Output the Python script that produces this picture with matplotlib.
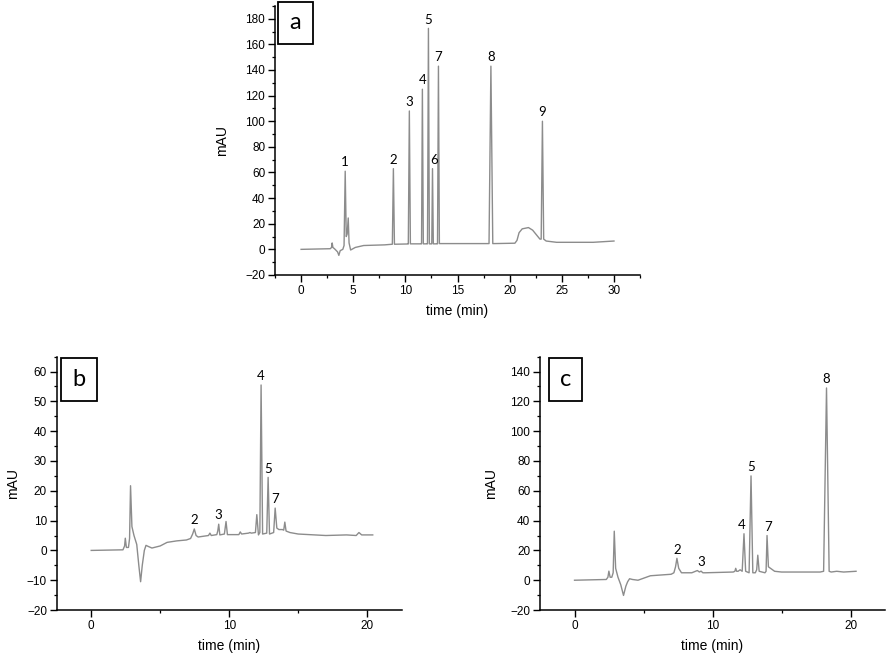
import matplotlib

matplotlib.use("Agg")
import matplotlib.pyplot as plt
from matplotlib.patches import Rectangle
from matplotlib.ticker import MultipleLocator

# traced chromatogram vertices (time in min, absorbance in mAU)
time_a = [0.0, 2.8, 2.92, 2.98, 3.05, 3.2, 3.5, 3.62, 3.75, 4.0, 4.12, 4.23, 4.33, 4.42, 4.52, 4.6,
          4.75, 5.2, 6.0, 8.0, 8.75, 8.85, 8.95, 10.2, 10.28, 10.38, 10.48, 11.5, 11.55, 11.63,
          11.72, 12.05, 12.12, 12.21, 12.3, 12.48, 12.53, 12.6, 12.68, 13.02, 13.08, 13.17, 13.26,
          13.5, 17.9, 18.02, 18.2, 18.38, 18.5, 20.5, 20.7, 20.9, 21.2, 21.8, 22.2, 22.6, 22.9,
          23.02, 23.14, 23.26, 23.5, 24.5, 26.0, 28.0, 30.0]
mau_a = [0.0, 0.5, 1.5, 5.0, 1.5, 0.5, -2.0, -4.7, -1.0, 0.0, 3.0, 61.0, 10.0, 12.0, 24.5, 5.0,
         -0.5, 1.5, 3.0, 3.5, 4.0, 63.0, 4.0, 4.2, 4.2, 108.0, 4.3, 4.3, 4.3, 125.0,
         4.3, 4.3, 4.3, 172.5, 4.3, 4.3, 4.3, 63.0, 4.3, 4.3, 4.3, 143.0, 4.5,
         4.5, 4.5, 4.5, 143.0, 4.5, 4.5, 4.8, 7.0, 13.0, 16.0, 17.0, 15.0, 11.0, 8.0,
         8.0, 100.0, 8.0, 6.5, 5.5, 5.5, 5.5, 6.5]

time_b = [0.0, 2.3, 2.42, 2.47, 2.55, 2.7, 2.78, 2.85, 2.95, 3.1, 3.3, 3.45, 3.58, 3.7, 3.85,
          3.97, 4.15, 4.4, 5.0, 5.5, 6.2, 6.9, 7.2, 7.35, 7.47, 7.6, 7.75, 8.5, 8.6, 8.7, 9.1,
          9.17, 9.24, 9.32, 9.65, 9.77, 9.87, 10.7, 10.8, 10.9, 11.4, 11.5, 11.6, 11.9, 12.0,
          12.12, 12.22, 12.31, 12.42, 12.72, 12.82, 12.92, 13.22, 13.33, 13.45, 13.6, 13.85,
          13.95, 14.03, 14.12, 14.4, 15.0, 17.0, 18.5, 19.2, 19.4, 19.6, 20.4]
mau_b = [0.0, 0.2, 1.5, 4.1, 1.0, 1.0, 4.0, 21.7, 8.0, 5.0, 2.0, -5.0, -10.5, -5.0, 0.0,
         1.7, 1.3, 0.8, 1.5, 2.7, 3.2, 3.5, 4.0, 5.5, 7.2, 5.0, 4.5, 5.0, 5.8, 5.0, 5.3,
         6.5, 8.8, 5.2, 5.5, 9.7, 5.3, 5.3, 6.2, 5.5, 5.8, 6.0, 5.8, 6.0, 12.0,
         5.2, 6.0, 55.5, 5.5, 5.8, 24.5, 5.5, 6.0, 14.2, 7.5, 7.0, 7.0,
         6.8, 9.5, 6.5, 6.0, 5.5, 5.0, 5.2, 5.0, 6.0, 5.2, 5.2]

time_c = [0.0, 2.3, 2.42, 2.49, 2.58, 2.7, 2.8, 2.88, 2.98, 3.15, 3.35, 3.55, 3.72, 3.85, 3.99,
          4.2, 4.6, 5.5, 7.0, 7.2, 7.32, 7.42, 7.55, 7.75, 8.5, 8.9, 9.05, 9.17, 9.3, 9.5,
          11.5, 11.62, 11.68, 11.75, 11.85, 12.0, 12.15, 12.28, 12.4, 12.65, 12.79, 12.92,
          13.1, 13.2, 13.28, 13.38, 13.8, 13.88, 13.95, 14.05, 14.2, 14.5, 15.0, 17.8, 18.05,
          18.26, 18.45, 18.6, 19.0, 19.5, 20.4]
mau_c = [0.0, 0.5, 2.0, 6.1, 2.0, 2.0, 5.0, 32.9, 8.0, 2.0, -3.0, -10.2, -4.0, -1.0, 1.0,
         0.5, 0.0, 3.0, 4.0, 5.0, 9.0, 14.7, 8.0, 5.0, 5.0, 6.5, 5.5, 6.1, 5.0, 5.0,
         5.5, 6.0, 8.0, 6.0, 6.0, 7.0, 6.0, 31.2, 6.0, 5.0, 70.0, 5.0,
         5.0, 7.0, 16.8, 6.0, 5.0, 6.0, 30.0, 9.0, 8.0, 6.0, 5.5, 5.5, 6.0,
         129.0, 6.0, 5.5, 6.0, 5.5, 6.0]

# peak labels: number, retention time, apex height
peaks_a = ["1", "2", "3", "4", "5", "6", "7", "8", "9"]
peak_t_a = [4.23, 8.85, 10.38, 11.63, 12.21, 12.72, 13.17, 18.2, 23.14]
peak_h_a = [61.0, 63.0, 108.0, 125.0, 172.5, 63.0, 143.0, 143.0, 100.0]

peaks_b = ["2", "3", "4", "5", "7"]
peak_t_b = [7.47, 9.24, 12.31, 12.82, 13.33]
peak_h_b = [7.2, 8.8, 55.5, 24.5, 14.2]

peaks_c = ["2", "3", "4", "5", "7", "8"]
peak_t_c = [7.42, 9.17, 12.1, 12.79, 14.0, 18.26]
peak_h_c = [14.7, 6.1, 31.2, 70.0, 30.0, 129.0]

TRACE = "#8c8c8c"
TICK_FONT = "Liberation Sans"
LABEL_FONT = "Lato"


def _style(ax, xlim, ylim, xmaj, xmin, ymaj, ymin):
    ax.set_xlim(*xlim)
    ax.set_ylim(*ylim)
    for side in ("top", "right"):
        ax.spines[side].set_visible(False)
    for side in ("left", "bottom"):
        ax.spines[side].set_linewidth(1.1)
    ax.xaxis.set_major_locator(MultipleLocator(xmaj))
    ax.xaxis.set_minor_locator(MultipleLocator(xmin))
    ax.yaxis.set_major_locator(MultipleLocator(ymaj))
    ax.yaxis.set_minor_locator(MultipleLocator(ymin))
    ax.tick_params(which="major", direction="out", length=5, width=1.0, labelsize=8.5, pad=2)
    ax.tick_params(which="minor", direction="out", length=2.5, width=0.9)
    ax.set_xticks([t for t in ax.get_xticks() if t >= 0 and t <= xlim[1] - 1])
    for lab in ax.get_xticklabels() + ax.get_yticklabels():
        lab.set_fontfamily(TICK_FONT)
    ax.set_xlabel("time (min)", fontsize=10, family=TICK_FONT, labelpad=5)
    ax.set_ylabel("mAU", fontsize=10, family=TICK_FONT)


def _box(ax, letter, x0, y0, w, h):
    ax.add_patch(Rectangle((x0, y0), w, h, transform=ax.transAxes, fill=False,
                           edgecolor="black", linewidth=1.3, clip_on=False))
    ax.text(x0 + w / 2, y0 + h / 2, letter, transform=ax.transAxes, ha="center",
            va="center", fontsize=17, family=LABEL_FONT)


def _peaks(ax, names, times, heights):
    for name, t, h in zip(names, times, heights):
        ax.annotate(name, (t, h), xytext=(0, 2), textcoords="offset points",
                    ha="center", va="bottom", fontsize=9.5, family=LABEL_FONT)


fig = plt.figure(figsize=(8.86, 6.53), dpi=100)
ax_a = fig.add_axes([0.3104, 0.5789, 0.412, 0.412])
ax_b = fig.add_axes([0.064, 0.0658, 0.3894, 0.388])
ax_c = fig.add_axes([0.6095, 0.0658, 0.3894, 0.388])

ax_a.plot(time_a, mau_a, color=TRACE, linewidth=1.0)
_style(ax_a, (-2.5, 32.5), (-20, 190), 5, 2.5, 20, 10)
ax_a.yaxis.labelpad = 12
_peaks(ax_a, peaks_a, peak_t_a, peak_h_a)
_box(ax_a, "a", 0.008, 0.859, 0.096, 0.156)

ax_b.plot(time_b, mau_b, color=TRACE, linewidth=1.0)
_style(ax_b, (-2.5, 22.5), (-20, 65), 10, 5, 10, 5)
ax_b.yaxis.labelpad = 5
_peaks(ax_b, peaks_b, peak_t_b, peak_h_b)
_box(ax_b, "b", 0.0125, 0.825, 0.104, 0.170)

ax_c.plot(time_c, mau_c, color=TRACE, linewidth=1.0)
_style(ax_c, (-2.5, 22.5), (-20, 150), 10, 5, 20, 10)
ax_c.yaxis.labelpad = 9
_peaks(ax_c, peaks_c, peak_t_c, peak_h_c)
_box(ax_c, "c", 0.026, 0.825, 0.096, 0.170)

fig.savefig("out.png", dpi=100)
plt.close(fig)
